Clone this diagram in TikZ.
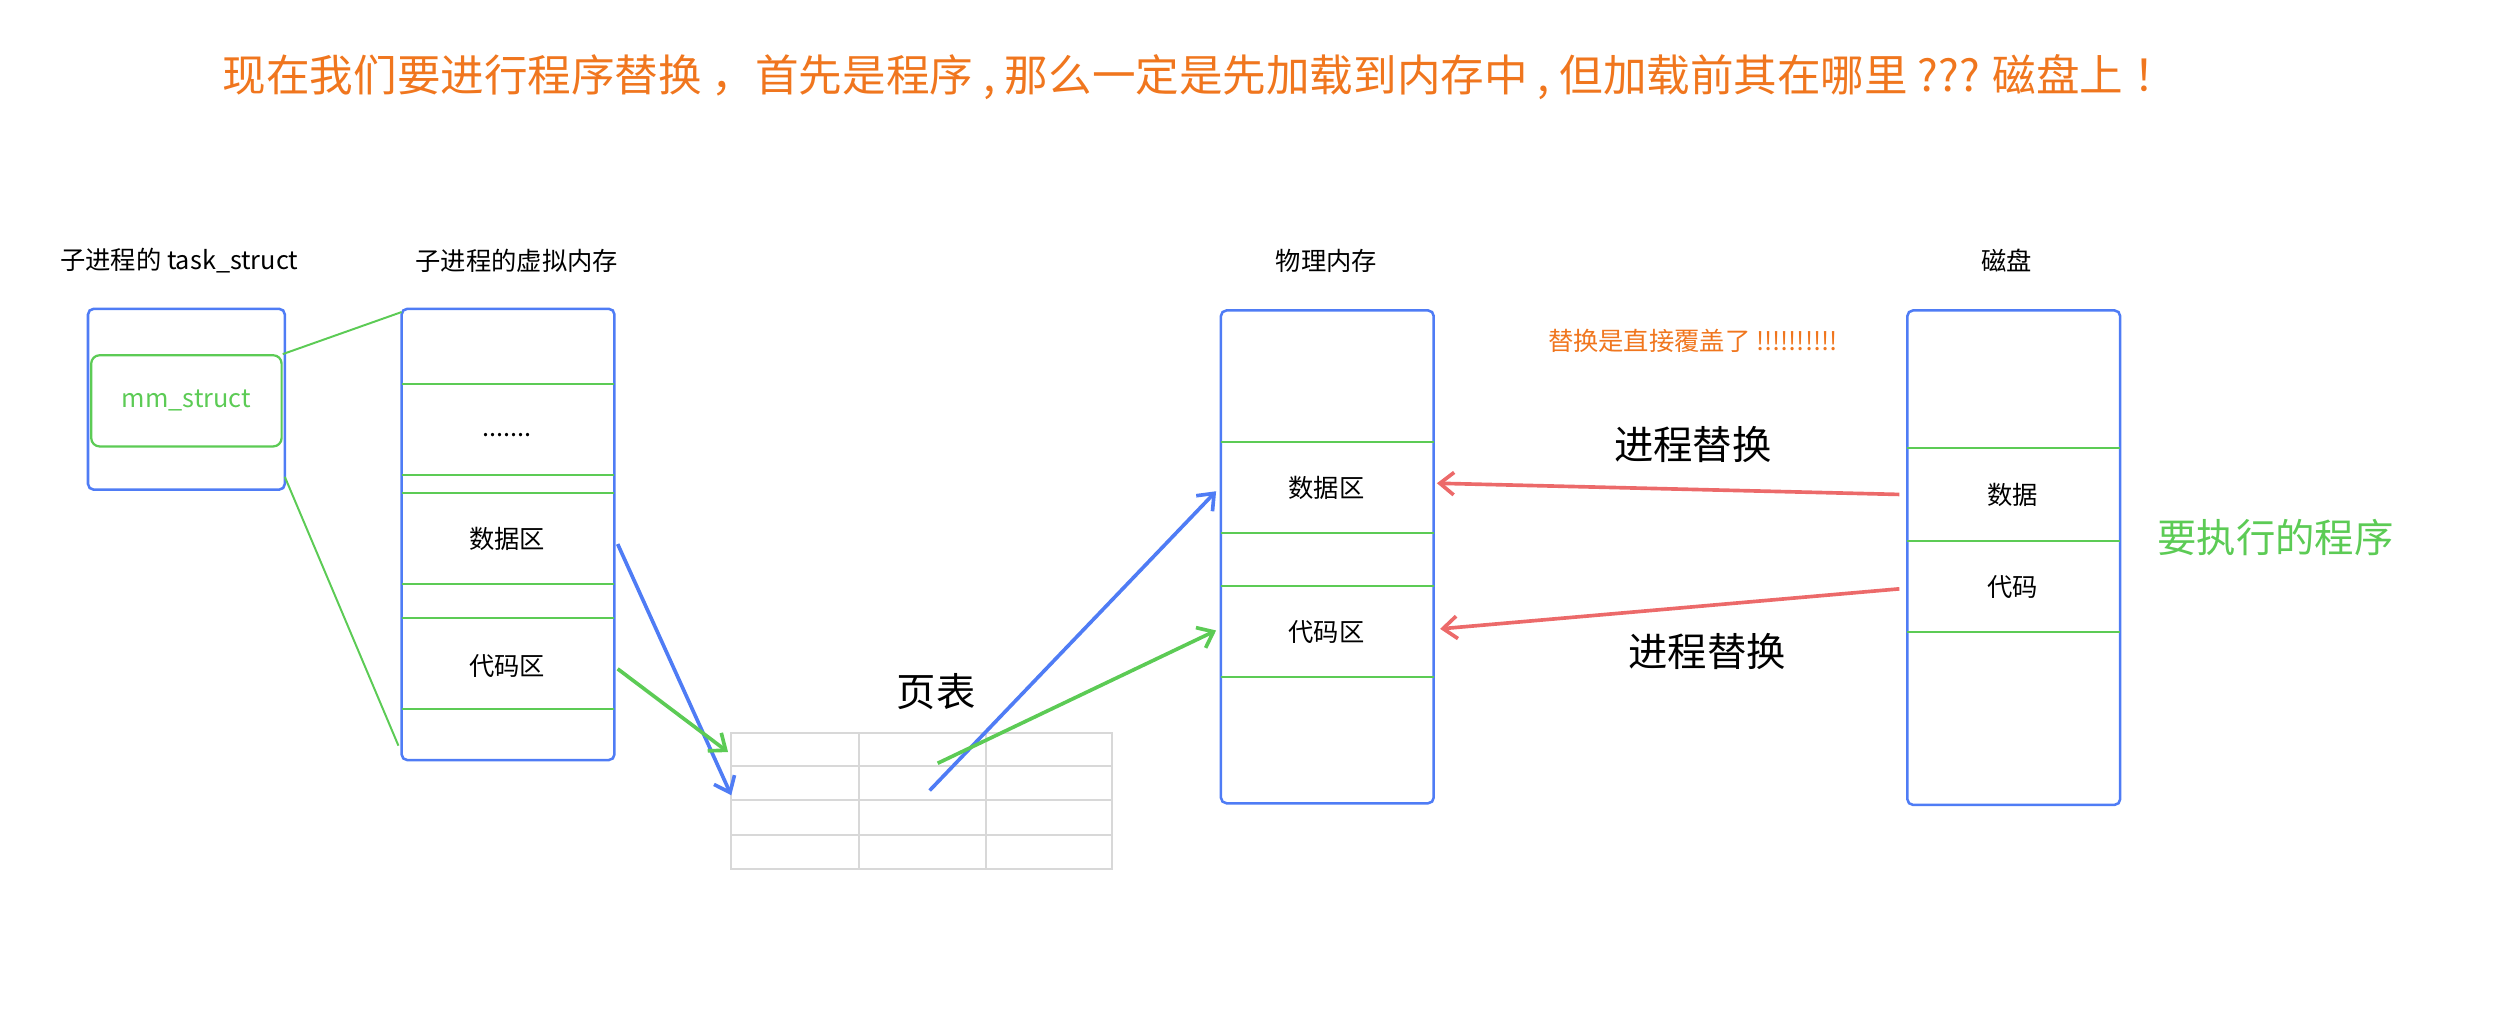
\documentclass[tikz,border=0pt]{standalone}
\usepackage{fontspec}
\setmainfont{Noto Sans CJK SC}
\usetikzlibrary{arrows.meta}
\definecolor{bl}{HTML}{4F7CF5}
\definecolor{gr}{HTML}{5CCB55}
\definecolor{og}{HTML}{F0761E}
\definecolor{rd}{HTML}{EC6A6A}
\definecolor{gy}{HTML}{D8D8D8}
\tikzset{
 box/.style={draw=bl,line width=0.9pt,rounded corners=2pt},
 sep/.style={draw=gr,line width=0.8pt},
 small/.style={font=\fontsize{9}{10}\selectfont},
 big/.style={font=\fontsize{14}{16}\selectfont},
 arr/.style={line width=1.3pt,-{Straight Barb[length=5pt,width=8pt]}},
}
\begin{document}
\begin{tikzpicture}[x=0.02cm,y=-0.02cm]
\useasboundingbox (0,0) rectangle (1563,636);
\node[text=og,font=\fontsize{15.5}{18}\selectfont,anchor=west] (title) at (133,48) {现在我们要进行程序替换 ，首先是程序 , 那么一定是先加载到内存中 , 但加载前其在哪里 ???  磁盘上 ！};
% task_struct
\node[small] (l1) at (112,163) {子进程的 task\_struct};
\draw[box] (55,193) rectangle (178,306);
\node[draw=gr,rounded corners=3pt,line width=0.8pt,minimum width=119*0.02cm,minimum height=57*0.02cm,text=gr,small] (mm) at (116.5,250.5) {mm\_struct};
% virtual memory
\node[small] (l2) at (323,163) {子进程的虚拟内存};
\draw[box] (251,193) rectangle (384,475);
\foreach \y in {240,297,308,365,386,443} \draw[sep] (251,\y)--(384,\y);
\node[small] (dots) at (317,272) {.......};
\node[small] (v1) at (317,337) {数据区};
\node[small] (v2) at (317,416) {代码区};
\coordinate (vt) at (251,195); \coordinate (vb) at (249,466);
\draw[gr,line width=0.7pt] (mm.north east) -- (vt);
\draw[gr,line width=0.7pt] (178,298) -- (vb);
% page table
\node[big] (pt) at (585,432) {页表};
\draw[gy,line width=0.7pt] (457,458) rectangle (695,543);
\foreach \x in {537,616} \draw[gy,line width=0.7pt] (\x,458)--(\x,543);
\foreach \y in {479,500,522} \draw[gy,line width=0.7pt] (457,\y)--(695,\y);
% physical
\node[small] (l3) at (829,163) {物理内存};
\draw[box] (763,194) rectangle (896,502);
\foreach \y in {276,333,366,423} \draw[sep] (763,\y)--(896,\y);
\node[small] (p1) at (829,305) {数据区};
\node[small] (p2) at (829,395) {代码区};
% disk
\node[small] (l4) at (1254,163) {磁盘};
\draw[box] (1192,194) rectangle (1325,503);
\foreach \y in {280,338,395} \draw[sep] (1192,\y)--(1325,\y);
\node[small] (d1) at (1258,309) {数据};
\node[small] (d2) at (1258,367) {代码};
% arrows
\coordinate (a1) at (386,340); \coordinate (a2) at (457,497);
\coordinate (b1) at (386,418); \coordinate (b2) at (455,470);
\coordinate (c1) at (581,494); \coordinate (c2) at (760,307);
\coordinate (e1) at (586,477); \coordinate (e2) at (760,394);
\draw[arr,bl] (a1)--(a2);
\draw[arr,gr] (b1)--(b2);
\draw[arr,bl] (c1)--(c2);
\draw[arr,gr] (e1)--(e2);
\coordinate (r1) at (1187,309); \coordinate (r2) at (898,302);
\coordinate (s1) at (1187,368); \coordinate (s2) at (900,393);
\draw[arr,rd] (r1)--(r2);
\draw[arr,rd] (s1)--(s2);
\node[text=og,small] (note) at (1058,213) {替换是直接覆盖了 !!!!!!!!!!};
\node[big] (t1) at (1058,278) {进程替换};
\node[big] (t2) at (1067,407) {进程替换};
\node[big,text=gr] (exe) at (1422,336) {要执行的程序};
\end{tikzpicture}
\end{document}
